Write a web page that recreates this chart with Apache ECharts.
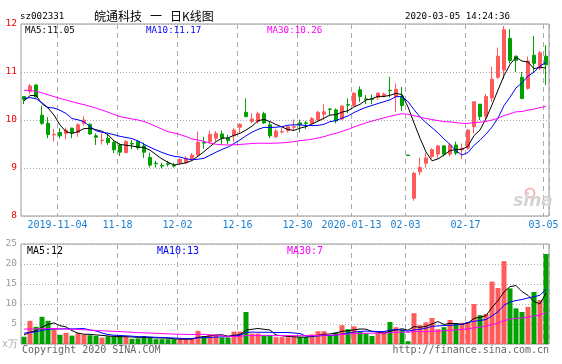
<!DOCTYPE html>
<html><head><meta charset="utf-8">
<script src="https://cdn.jsdelivr.net/npm/echarts@6/dist/echarts.min.js"></script>
<style>html,body{margin:0;padding:0;background:#fff}#c{width:562px;height:364px}</style>
</head><body><div id="c"></div>
<script>
// ---------- data ----------
const dates = [
 '2019-10-25','2019-10-28','2019-10-29','2019-10-30','2019-10-31','2019-11-01',
 '2019-11-04','2019-11-05','2019-11-06','2019-11-07','2019-11-08','2019-11-11','2019-11-12','2019-11-13','2019-11-14','2019-11-15',
 '2019-11-18','2019-11-19','2019-11-20','2019-11-21','2019-11-22','2019-11-25','2019-11-26','2019-11-27','2019-11-28','2019-11-29',
 '2019-12-02','2019-12-03','2019-12-04','2019-12-05','2019-12-06','2019-12-09','2019-12-10','2019-12-11','2019-12-12','2019-12-13',
 '2019-12-16','2019-12-17','2019-12-18','2019-12-19','2019-12-20','2019-12-23','2019-12-24','2019-12-25','2019-12-26','2019-12-27',
 '2019-12-30','2019-12-31','2020-01-02','2020-01-03','2020-01-06','2020-01-07','2020-01-08','2020-01-09','2020-01-10',
 '2020-01-13','2020-01-14','2020-01-15','2020-01-16','2020-01-17','2020-01-20','2020-01-21','2020-01-22','2020-01-23',
 '2020-02-03','2020-02-04','2020-02-05','2020-02-06','2020-02-07','2020-02-10','2020-02-11','2020-02-12','2020-02-13','2020-02-14',
 '2020-02-17','2020-02-18','2020-02-19','2020-02-20','2020-02-21','2020-02-24','2020-02-25','2020-02-26','2020-02-27','2020-02-28',
 '2020-03-02','2020-03-03','2020-03-04','2020-03-05'
];
const opens = [
 10.49,10.60,10.73,10.10,9.93,9.69,
 9.74,9.72,9.83,9.74,9.93,9.91,9.67,9.57,9.62,9.53,
 9.48,9.32,9.51,9.55,9.46,9.22,9.10,9.05,9.09,9.05,
 9.11,9.11,9.17,9.27,9.53,9.55,9.62,9.71,9.62,9.67,
 9.85,10.16,9.97,9.97,10.13,9.90,9.65,9.75,9.78,9.85,
 9.94,9.94,9.93,10.00,10.12,10.23,10.21,10.02,10.32,
 10.30,10.63,10.44,10.44,10.47,10.50,10.62,10.49,10.50,
 9.27,8.37,8.92,9.10,9.24,9.29,9.46,9.29,9.48,9.38,
 9.41,9.86,10.33,10.08,10.46,10.89,11.04,11.70,11.33,10.89,
 10.66,11.35,11.08,11.33
];
const closes = [
 10.43,10.71,10.48,9.93,9.70,9.70,
 9.67,9.79,9.74,9.90,10.00,9.71,9.64,9.58,9.53,9.38,
 9.33,9.55,9.50,9.42,9.33,9.06,9.09,9.04,9.08,9.04,
 9.18,9.20,9.27,9.54,9.52,9.70,9.72,9.62,9.57,9.79,
 9.91,10.07,10.02,10.13,9.94,9.67,9.77,9.76,9.86,9.86,
 9.90,9.93,10.03,10.16,10.17,10.22,9.98,10.29,10.31,
 10.56,10.49,10.43,10.43,10.56,10.54,10.61,10.64,10.30,
 9.26,8.89,9.01,9.21,9.38,9.46,9.29,9.48,9.31,9.41,
 9.79,10.38,10.07,10.49,10.85,11.33,11.88,11.24,11.24,10.45,
 11.23,11.18,11.40,11.15
];
const lows = [
 10.33,10.54,10.47,9.90,9.62,9.55,
 9.62,9.60,9.62,9.65,9.88,9.69,9.48,9.49,9.48,9.31,
 9.25,9.31,9.39,9.38,9.21,9.01,9.01,8.99,9.03,9.01,
 9.06,9.08,9.15,9.25,9.40,9.50,9.55,9.50,9.50,9.55,
 9.72,10.06,9.93,9.92,9.92,9.62,9.62,9.72,9.74,9.77,
 9.74,9.81,9.92,9.99,10.00,10.10,9.93,10.00,10.14,
 10.28,10.38,10.33,10.33,10.42,10.47,10.47,10.17,10.19,
 9.26,8.32,8.85,9.01,9.20,9.20,9.24,9.24,9.27,9.19,
 9.38,9.72,10.00,10.01,10.38,10.85,10.85,11.18,11.00,10.43,
 10.63,11.00,11.04,10.73
];
const highs = [
 10.50,10.75,10.74,10.30,10.06,9.81,
 9.83,9.84,9.84,9.93,10.08,9.93,9.72,9.72,9.72,9.58,
 9.51,9.58,9.58,9.58,9.53,9.32,9.15,9.11,9.15,9.11,
 9.20,9.25,9.31,9.76,9.65,9.78,9.77,9.78,9.69,9.83,
 9.93,10.45,10.14,10.17,10.17,9.97,9.81,9.83,9.87,10.01,
 10.01,9.98,10.06,10.19,10.33,10.24,10.24,10.31,10.45,
 10.57,10.70,10.52,10.53,10.57,10.57,10.90,10.76,10.69,
 9.27,8.92,9.22,9.31,9.41,9.48,9.48,9.51,9.55,9.51,
 9.81,10.39,10.33,10.54,11.11,11.51,11.96,11.89,11.34,11.00,
 11.32,11.75,11.44,11.56
];
// volume, x10^4
const volumes = [
 1.8,5.8,4.3,6.8,5.8,3.7,
 2.3,2.8,2.1,2.7,2.3,2.2,2.0,1.6,1.9,1.9,
 1.9,1.8,1.3,1.4,2.0,1.7,1.2,1.2,1.2,1.2,
 1.2,1.2,1.4,3.3,2.0,2.3,2.3,1.6,1.6,3.1,
 3.1,8.0,2.6,2.6,2.1,2.2,1.7,1.7,1.7,1.8,
 1.7,1.7,2.4,3.2,3.2,2.0,2.9,4.7,3.7,
 4.4,3.1,2.6,2.0,2.6,3.2,5.5,4.2,3.6,
 0.7,7.7,4.7,5.4,6.5,3.7,4.2,6.0,5.2,5.3,
 5.5,10.0,7.2,7.5,15.6,14.0,20.7,13.9,8.9,8.0,
 9.3,13.0,11.0,22.5
];
// closes / volumes of the 29 sessions before the window (estimated, only used for the moving averages)
const priorCloses = [
 10.95,10.90,10.85,10.92,10.88,10.80,10.75,10.82,10.90,10.85,10.78,10.72,10.80,10.86,10.78,10.72,
 10.30,10.15,10.12,10.24,10.55,10.70,10.78,10.69,9.80,10.15,10.45,10.80,10.15
];
const priorVolumes = [
 3.8,4.5,5.2,4.0,3.6,4.8,4.4,3.9,4.1,4.6,5.0,4.3,3.7,4.2,3.9,4.4,4.0,3.8,4.1,3.7,
 3.5,3.2,2.9,3.3,2.85,2.4,2.2,2.5,2.32
];
const tickDates = ['2019-11-04','2019-11-18','2019-12-02','2019-12-16','2019-12-30','2020-01-13','2020-02-03','2020-02-17','2020-03-05'];
const tickLabels = ['2019-11-04','11-18','12-02','12-16','12-30','2020-01-13','02-03','02-17','03-05'];
const priceLegend = ['MA5:11.05','MA10:11.17','MA30:10.26'];
const volLegend = ['MA5:12','MA10:13','MA30:7'];
const headerCode = 'sz002331';
const headerTitle = ['皖通科技', '一', '日K线图'];
const headerTime = '2020-03-05 14:24:36';
const footerLeft = 'Copyright 2020 SINA.COM';
const footerRight = 'http://finance.sina.com.cn';
const volUnit = 'x万';

// ---------- build ----------
function movingAvg(prior, vals, n) {
  const all = prior.concat(vals), off = prior.length, out = [];
  for (let i = 0; i < vals.length; i++) {
    let s = 0;
    for (let k = 0; k < n; k++) s += all[off + i - k];
    out.push(+(s / n).toFixed(3));
  }
  return out;
}
const UP = '#ff5b5b', DOWN = '#00a000';
const kData = dates.map((d, i) => [opens[i], closes[i], lows[i], highs[i]]);
const vData = volumes.map((v, i) => ({value: v, itemStyle: {color: closes[i] >= opens[i] ? UP : DOWN}}));
const isTick = (i) => tickDates.indexOf(dates[i]) >= 0;
const mono = '"DejaVu Sans Mono", "Liberation Mono", monospace';
const cjk = '"Noto Sans CJK SC", sans-serif';

const L = 21, W = 528;
function line(name, data, color, xi) {
  return {type: 'line', name, data, xAxisIndex: xi, yAxisIndex: xi, showSymbol: false, symbol: 'none',
    lineStyle: {width: 1, color}, itemStyle: {color}, silent: true, z: 5};
}
function txt(x, y, text, font, fill, align, z) {
  return {type: 'text', x, y, z: z || 10, style: {text, font, fill, verticalAlign: 'middle', align: align || 'left'}};
}
const splitX = {show: true, interval: (i) => isTick(i), lineStyle: {color: '#aaaaaa', width: 1, type: [5, 4]}};
const chart = echarts.init(document.getElementById('c'), null, {width: 562, height: 364});
chart.setOption({
  animation: false,
  backgroundColor: '#ffffff',
  grid: [
    {left: L, width: W, top: 24, height: 192, show: true, borderColor: '#999', borderWidth: 1},
    {left: L, width: W, top: 244, height: 100, show: true, borderColor: '#999', borderWidth: 1}
  ],
  xAxis: [
    {type: 'category', gridIndex: 0, data: dates, boundaryGap: true,
      axisLine: {show: false}, axisTick: {show: false},
      axisLabel: {show: true, interval: (i) => isTick(i), formatter: (v) => tickLabels[tickDates.indexOf(v)],
        color: '#1a7fd0', fontSize: 10, fontFamily: mono, margin: 4, padding: [0, 5, 0, 0]},
      splitLine: splitX},
    {type: 'category', gridIndex: 1, data: dates, boundaryGap: true,
      axisLine: {show: false}, axisTick: {show: false}, axisLabel: {show: false},
      splitLine: splitX}
  ],
  yAxis: [
    {type: 'value', gridIndex: 0, min: 8, max: 12, interval: 1,
      axisLine: {show: false}, axisTick: {show: false},
      axisLabel: {color: '#ee0000', fontSize: 9.5, fontFamily: mono, margin: 4},
      splitLine: {show: true, lineStyle: {color: '#aaaaaa', width: 1, type: [1, 2]}}},
    {type: 'value', gridIndex: 1, min: 0, max: 25, interval: 5,
      axisLine: {show: false}, axisTick: {show: false},
      axisLabel: {color: '#999999', fontSize: 9.5, fontFamily: mono, margin: 4, formatter: (v) => v === 0 ? '' : String(v)},
      splitLine: {show: true, lineStyle: {color: '#aaaaaa', width: 1, type: [1, 2]}}}
  ],
  series: [
    {type: 'candlestick', xAxisIndex: 0, yAxisIndex: 0, data: kData, barWidth: 4,
      itemStyle: {color: UP, color0: DOWN, borderColor: UP, borderColor0: DOWN, borderWidth: 1}, z: 3},
    line('MA5', movingAvg(priorCloses, closes, 5), '#000000', 0),
    line('MA10', movingAvg(priorCloses, closes, 10), '#0000ff', 0),
    line('MA30', movingAvg(priorCloses, closes, 30), '#ff00ff', 0),
    {type: 'bar', xAxisIndex: 1, yAxisIndex: 1, data: vData, barWidth: 5, z: 3},
    line('VMA5', movingAvg(priorVolumes, volumes, 5), '#000000', 1),
    line('VMA10', movingAvg(priorVolumes, volumes, 10), '#0000ff', 1),
    line('VMA30', movingAvg(priorVolumes, volumes, 30), '#ff00ff', 1)
  ],
  graphic: [
    txt(20, 17, headerCode, '9.2px ' + mono, '#000'),
    txt(94, 16, headerTitle[0], '12px ' + cjk, '#000'),
    txt(150, 16, headerTitle[1], '12px ' + cjk, '#000'),
    txt(170, 16, headerTitle[2], '12px ' + cjk, '#000'),
    txt(510, 17, headerTime, '9.2px ' + mono, '#000', 'right'),
    txt(25, 31, priceLegend[0], '9.2px ' + mono, '#000'),
    txt(146, 31, priceLegend[1], '9.2px ' + mono, '#0000ff'),
    txt(267, 31, priceLegend[2], '9.2px ' + mono, '#ff00ff'),
    txt(27, 251, volLegend[0], '10px ' + mono, '#000'),
    txt(157, 251, volLegend[1], '10px ' + mono, '#0000ff'),
    txt(287, 251, volLegend[2], '10px ' + mono, '#ff00ff'),
    txt(2, 344, volUnit, '10px ' + mono, '#aaaaaa'),
    txt(22, 350, footerLeft, '10px ' + mono, '#666666'),
    txt(549, 350, footerRight, '10px ' + mono, '#666666', 'right'),
    {type: 'circle', z: 1, shape: {cx: 530, cy: 193, r: 4.5}, style: {fill: 'none', stroke: '#f4b8b8', lineWidth: 2}},
    txt(533, 202, 'sina', 'italic bold 17px "DejaVu Sans"', '#d4d4d4', 'center', 1)
  ]
});
</script>
</body></html>
